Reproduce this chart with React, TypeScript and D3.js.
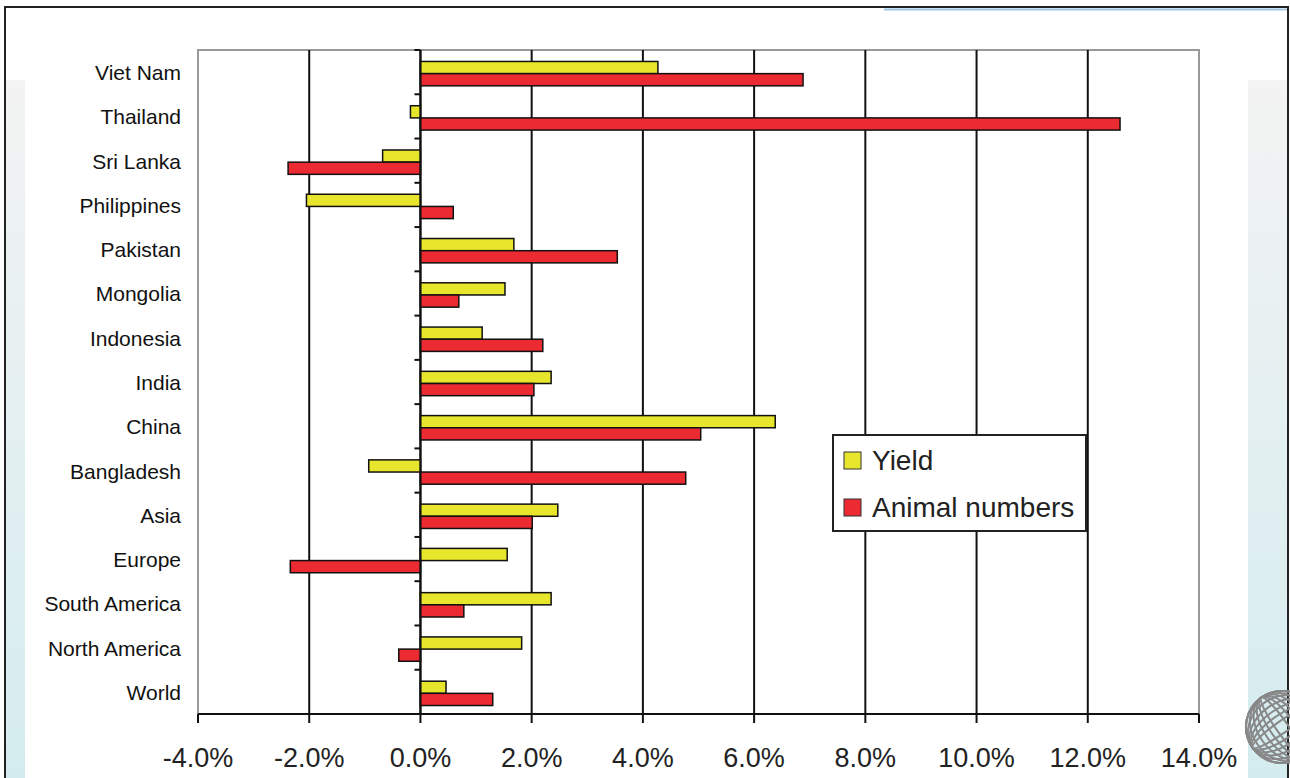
import { useEffect, useRef } from "react";
import * as d3 from "d3";

const categories = [
  "Viet Nam",
  "Thailand",
  "Sri Lanka",
  "Philippines",
  "Pakistan",
  "Mongolia",
  "Indonesia",
  "India",
  "China",
  "Bangladesh",
  "Asia",
  "Europe",
  "South America",
  "North America",
  "World",
];

// growth rates in percent
const yieldValues = [4.27, -0.18, -0.68, -2.05, 1.68, 1.52, 1.11, 2.35, 6.38, -0.93, 2.47, 1.56, 2.35, 1.82, 0.46];
const animalValues = [6.88, 12.58, -2.38, 0.59, 3.54, 0.69, 2.2, 2.04, 5.04, 4.77, 2.01, -2.34, 0.78, -0.39, 1.3];

const seriesNames = ["Yield", "Animal numbers"];
const seriesColors = ["#e8e62c", "#ec2a32"];
const xTicks = [-4, -2, 0, 2, 4, 6, 8, 10, 12, 14];

export default function App() {
  const ref = useRef<SVGSVGElement>(null);

  useEffect(() => {
    const svg = d3.select(ref.current);
    svg.selectAll("*").remove();

    const W = 1290;
    const H = 778;
    const left = 198;
    const right = 1199;
    const top = 50;
    const bottom = 714;
    const font = "'Liberation Sans', Arial, sans-serif";

    // page background / frame
    const defs = svg.append("defs");
    const grad = defs
      .append("linearGradient")
      .attr("id", "side")
      .attr("x1", 0)
      .attr("y1", 0)
      .attr("x2", 0)
      .attr("y2", 1);
    grad.append("stop").attr("offset", "0%").attr("stop-color", "#f3f3f3");
    grad.append("stop").attr("offset", "100%").attr("stop-color", "#d4ecef");

    svg.append("rect").attr("width", W).attr("height", H).attr("fill", "#fff");
    svg.append("rect").attr("x", 6).attr("y", 80).attr("width", 19).attr("height", H - 80).attr("fill", "url(#side)");
    svg.append("rect").attr("x", 1248).attr("y", 80).attr("width", 39).attr("height", H - 80).attr("fill", "url(#side)");
    svg
      .append("path")
      .attr("d", `M5,${H + 5}V7H1288V${H + 5}`)
      .attr("fill", "none")
      .attr("stroke", "#222")
      .attr("stroke-width", 2);
    svg
      .append("line")
      .attr("x1", 884)
      .attr("x2", 1287)
      .attr("y1", 9.5)
      .attr("y2", 9.5)
      .attr("stroke", "#9ec6e6")
      .attr("stroke-width", 2);

    // little wire globe in the corner
    const globe = svg.append("g").attr("transform", "translate(1282,727)").attr("fill", "none").attr("stroke", "#888").attr("stroke-width", 2);
    globe.append("circle").attr("r", 36);
    d3.range(6).forEach((i) => {
      globe.append("ellipse").attr("rx", 36).attr("ry", 6 + i * 6).attr("transform", "rotate(-35)");
      globe.append("ellipse").attr("rx", 6 + i * 6).attr("ry", 36).attr("transform", "rotate(-35)");
    });

    const x = d3.scaleLinear().domain([-4, 14]).range([left, right]);
    const y0 = d3.scaleBand<string>().domain(categories).range([top, bottom]).paddingInner(0.45).paddingOuter(0.225);
    const y1 = d3.scaleBand<string>().domain(seriesNames).range([0, y0.bandwidth()]);

    // plot area
    svg
      .append("rect")
      .attr("x", left)
      .attr("y", top)
      .attr("width", right - left)
      .attr("height", bottom - top)
      .attr("fill", "#fff")
      .attr("stroke", "#999")
      .attr("stroke-width", 2);

    svg
      .append("g")
      .selectAll("line")
      .data(xTicks.filter((t) => t > -4 && t < 14))
      .enter()
      .append("line")
      .attr("x1", (d) => x(d))
      .attr("x2", (d) => x(d))
      .attr("y1", top)
      .attr("y2", bottom)
      .attr("stroke", "#111")
      .attr("stroke-width", 2);

    // bars
    const rows = categories.map((c, i) => ({ cat: c, vals: [yieldValues[i], animalValues[i]] }));
    const groups = svg
      .append("g")
      .selectAll("g")
      .data(rows)
      .enter()
      .append("g")
      .attr("transform", (d) => `translate(0,${y0(d.cat)! + 1.5})`);

    groups
      .selectAll("rect")
      .data((d) => d.vals.map((v, j) => ({ v, s: seriesNames[j], c: seriesColors[j] })))
      .enter()
      .append("rect")
      .attr("x", (d) => Math.min(x(0), x(d.v)))
      .attr("y", (d) => y1(d.s)!)
      .attr("width", (d) => Math.abs(x(d.v) - x(0)))
      .attr("height", y1.bandwidth())
      .attr("fill", (d) => d.c)
      .attr("stroke", "#111")
      .attr("stroke-width", 1.5);

    // category axis at zero
    svg
      .append("line")
      .attr("x1", x(0))
      .attr("x2", x(0))
      .attr("y1", top)
      .attr("y2", bottom)
      .attr("stroke", "#111")
      .attr("stroke-width", 2);
    svg
      .append("g")
      .selectAll("line")
      .data(d3.range(categories.length + 1))
      .enter()
      .append("line")
      .attr("x1", x(0) - 6)
      .attr("x2", x(0))
      .attr("y1", (i) => top + i * y0.step())
      .attr("y2", (i) => top + i * y0.step())
      .attr("stroke", "#111")
      .attr("stroke-width", 2);

    svg
      .append("g")
      .selectAll("text")
      .data(categories)
      .enter()
      .append("text")
      .attr("x", 181)
      .attr("y", (d) => y0(d)! + y0.bandwidth() / 2 + 8)
      .attr("text-anchor", "end")
      .style("font-family", font)
      .style("font-size", "21px")
      .attr("fill", "#111")
      .text((d) => d);

    // value axis
    svg
      .append("line")
      .attr("x1", left)
      .attr("x2", right)
      .attr("y1", bottom)
      .attr("y2", bottom)
      .attr("stroke", "#111")
      .attr("stroke-width", 2);
    svg
      .append("g")
      .selectAll("line")
      .data(xTicks)
      .enter()
      .append("line")
      .attr("x1", (d) => x(d))
      .attr("x2", (d) => x(d))
      .attr("y1", bottom)
      .attr("y2", bottom + 9)
      .attr("stroke", "#111")
      .attr("stroke-width", 2);
    svg
      .append("g")
      .selectAll("text")
      .data(xTicks)
      .enter()
      .append("text")
      .attr("x", (d) => x(d))
      .attr("y", 767)
      .attr("text-anchor", "middle")
      .style("font-family", font)
      .style("font-size", "27px")
      .attr("fill", "#222")
      .text((d) => `${d.toFixed(1)}%`);

    // legend
    const lg = svg.append("g").attr("transform", "translate(833,435)");
    lg.append("rect")
      .attr("width", 253)
      .attr("height", 96)
      .attr("fill", "#fff")
      .attr("stroke", "#222")
      .attr("stroke-width", 2);
    seriesNames.forEach((s, i) => {
      lg.append("rect")
        .attr("x", 11)
        .attr("y", 17 + i * 47)
        .attr("width", 17)
        .attr("height", 17)
        .attr("fill", seriesColors[i])
        .attr("stroke", "#333")
        .attr("stroke-width", 1);
      lg.append("text")
        .attr("x", 39)
        .attr("y", 35 + i * 47)
        .style("font-family", font)
        .style("font-size", "28px")
        .attr("fill", "#222")
        .text(s);
    });
  }, []);

  return (
    <svg
      ref={ref}
      width={1290}
      height={778}
      style={{ position: "absolute", left: 0, top: 0, display: "block" }}
    ></svg>
  );
}
